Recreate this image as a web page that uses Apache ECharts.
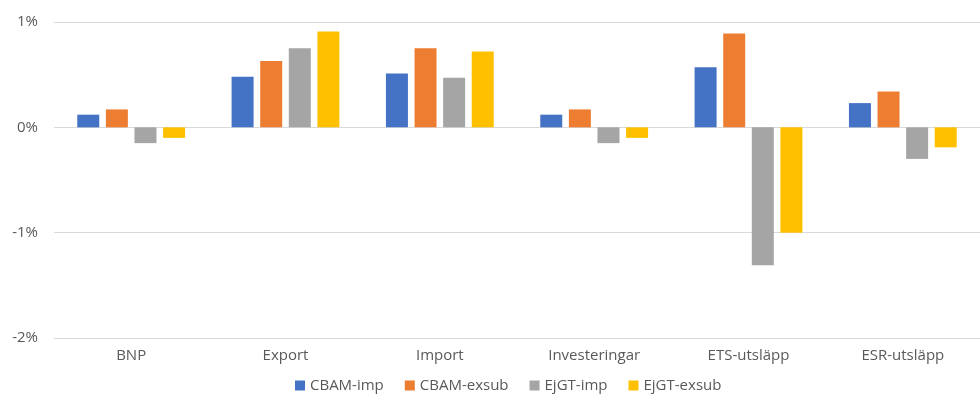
<!DOCTYPE html>
<html>
<head>
<meta charset="utf-8">
<script src="https://cdn.jsdelivr.net/npm/echarts@6/dist/echarts.min.js"></script>
<style>
  html, body { margin: 0; padding: 0; background: #fff; }
  #chart { width: 980px; height: 394px; }
</style>
</head>
<body>
<div id="chart"></div>
<script>
// Categories along the x axis
const categories = ['BNP', 'Export', 'Import', 'Investeringar', 'ETS-utsläpp', 'ESR-utsläpp'];

// Effects in percent per scenario
const cbamImp   = [0.12, 0.48, 0.51, 0.12, 0.57, 0.23];
const cbamExsub = [0.17, 0.63, 0.75, 0.17, 0.89, 0.34];
const ejgtImp   = [-0.15, 0.75, 0.47, -0.15, -1.31, -0.30];
const ejgtExsub = [-0.10, 0.91, 0.72, -0.10, -1.00, -0.19];

const seriesNames = ['CBAM-imp', 'CBAM-exsub', 'EjGT-imp', 'EjGT-exsub'];
const seriesColors = ['#4472c4', '#ed7d31', '#a5a5a5', '#ffc000'];
const seriesData = [cbamImp, cbamExsub, ejgtImp, ejgtExsub];

const fontFamily = '"Open Sans", sans-serif';

const chart = echarts.init(document.getElementById('chart'));
chart.setOption({
  animation: false,
  textStyle: { fontFamily: fontFamily },
  grid: { left: 54, right: 0, top: 22, bottom: 56 },
  legend: {
    top: 378,
    left: 295,
    padding: 0,
    itemWidth: 10,
    itemHeight: 10,
    itemGap: 21,
    icon: 'rect',
    textStyle: { color: '#595959', fontSize: 15, fontFamily: fontFamily },
    data: seriesNames
  },
  xAxis: {
    type: 'category',
    data: categories,
    axisLine: { show: false, onZero: false },
    axisTick: { show: false },
    axisLabel: { color: '#595959', fontSize: 15, margin: 10, fontFamily: fontFamily }
  },
  yAxis: {
    type: 'value',
    min: -2,
    max: 1,
    interval: 1,
    axisLine: { show: false },
    axisTick: { show: false },
    splitLine: { lineStyle: { color: '#d9d9d9', width: 1 } },
    axisLabel: {
      color: '#595959',
      fontSize: 15,
      margin: 16,
      fontFamily: fontFamily,
      formatter: '{value}%'
    }
  },
  series: seriesData.map((d, i) => ({
    name: seriesNames[i],
    type: 'bar',
    data: d,
    barWidth: 22,
    barGap: '30%',
    itemStyle: { color: seriesColors[i] }
  }))
});
</script>
</body>
</html>
